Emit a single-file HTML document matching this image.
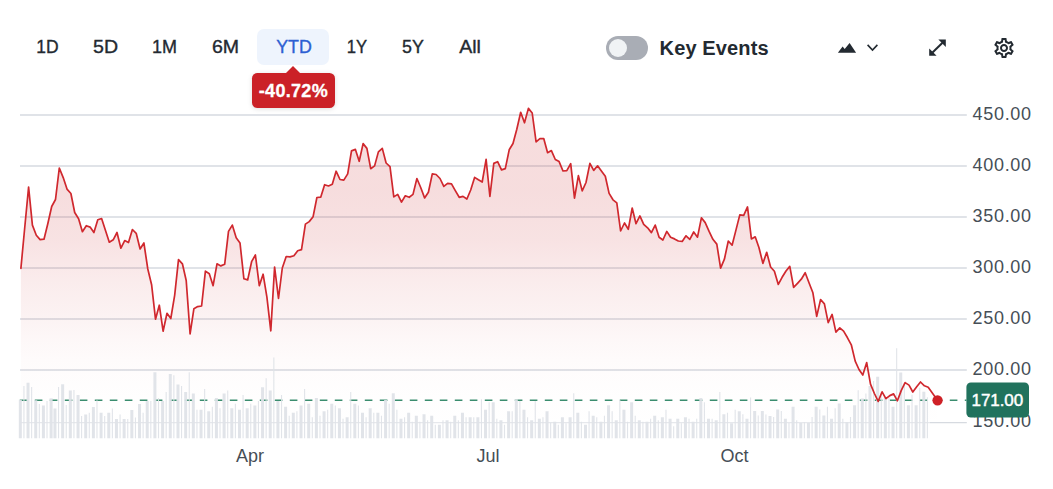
<!DOCTYPE html>
<html lang="en">
<head>
<meta charset="utf-8">
<title>Chart</title>
<style>
html,body{margin:0;padding:0;background:#fff;}
body{width:1053px;height:489px;position:relative;overflow:hidden;font-family:"Liberation Sans",Arial,sans-serif;color:#232a31;}
.rng{position:absolute;top:29px;height:36px;line-height:36px;font-size:18px;text-align:center;width:72px;margin-left:-36px;color:#232a31;-webkit-text-stroke:0.35px #232a31;white-space:nowrap;}
.rng span{display:inline-block;}
.sel{position:absolute;left:257px;top:29px;width:72px;height:36px;background:#eef4fd;border-radius:7px;}
.rng.blue{color:#2d5fd3;-webkit-text-stroke:0.35px #2d5fd3;}
.tip{position:absolute;left:252px;top:72.7px;width:83.2px;height:35.1px;background:#cb2127;border-radius:5.5px;color:#fff;font-weight:bold;font-size:18px;line-height:37.2px;text-align:center;letter-spacing:0.3px;text-indent:-0.4px;-webkit-text-stroke:0.3px #fff;box-shadow:0 1px 5px rgba(0,0,0,0.13);}
.tip:before{content:"";position:absolute;left:33.8px;top:-6.9px;border-left:7.1px solid transparent;border-right:7.1px solid transparent;border-bottom:7px solid #cb2127;}
.tog{position:absolute;left:606px;top:36px;width:42px;height:24px;border-radius:12px;background:#a9adb5;}
.tog i{position:absolute;left:2.6px;top:2.6px;width:18.8px;height:18.8px;border-radius:50%;background:#f0f3f5;}
.kev{position:absolute;left:659.6px;top:35.9px;height:24px;line-height:24px;font-size:20px;font-weight:bold;letter-spacing:0.13px;color:#232a31;white-space:nowrap;}
svg{position:absolute;left:0;top:0;}
svg text{font-family:"Liberation Sans",Arial,sans-serif;}
</style>
</head>
<body>
<svg width="1053" height="489" viewBox="0 0 1053 489">
<defs>
<linearGradient id="g" x1="0" y1="107" x2="0" y2="438" gradientUnits="userSpaceOnUse">
<stop offset="0.0000" stop-color="#c92a2e" stop-opacity="0.16"/>
<stop offset="0.2508" stop-color="#c92a2e" stop-opacity="0.16"/>
<stop offset="0.4018" stop-color="#c92a2e" stop-opacity="0.135"/>
<stop offset="0.5227" stop-color="#c92a2e" stop-opacity="0.091"/>
<stop offset="0.6133" stop-color="#c92a2e" stop-opacity="0.065"/>
<stop offset="0.7039" stop-color="#c92a2e" stop-opacity="0.034"/>
<stop offset="0.7674" stop-color="#c92a2e" stop-opacity="0.018"/>
<stop offset="0.8852" stop-color="#c92a2e" stop-opacity="0.004"/>
<stop offset="1.0000" stop-color="#c92a2e" stop-opacity="0"/>
</linearGradient>
</defs>
<g stroke="#d6dae0" stroke-width="1.3" fill="none"><line x1="20" x2="966.8" y1="115.0" y2="115.0"/><line x1="20" x2="966.8" y1="166.0" y2="166.0"/><line x1="20" x2="966.8" y1="217.0" y2="217.0"/><line x1="20" x2="966.8" y1="268.0" y2="268.0"/><line x1="20" x2="966.8" y1="319.0" y2="319.0"/><line x1="20" x2="966.8" y1="370.0" y2="370.0"/><line x1="20" x2="930" y1="422.6" y2="422.6" stroke="#e6e8ec"/><line x1="930" x2="966.8" y1="422.6" y2="422.6"/></g>
<path d="M20.9,268.3 L24.7,228.0 L28.6,187.1 L32.4,225.1 L36.3,235.2 L40.1,239.6 L44.0,239.2 L47.8,223.7 L51.7,206.5 L55.5,199.5 L59.3,168.0 L63.2,177.6 L67.0,189.1 L70.9,193.5 L74.7,212.5 L78.6,218.7 L82.4,231.7 L86.3,225.7 L90.1,227.1 L93.9,232.5 L97.8,219.7 L101.6,218.5 L105.5,230.5 L109.3,242.2 L113.2,239.8 L117.0,232.5 L120.9,248.2 L124.7,240.6 L128.5,242.6 L132.4,229.5 L136.2,233.3 L140.1,249.0 L143.9,243.0 L147.8,269.0 L151.6,284.7 L155.5,319.2 L159.3,305.2 L163.1,331.2 L167.0,313.3 L170.8,318.5 L174.7,295.1 L178.5,259.6 L182.4,263.8 L186.2,280.5 L190.1,333.9 L193.9,308.7 L197.7,306.6 L201.6,306.0 L205.4,271.1 L209.3,273.8 L213.1,285.7 L217.0,263.8 L220.8,265.9 L224.7,264.2 L228.5,231.4 L232.3,225.1 L236.2,237.7 L240.0,242.9 L243.9,278.8 L247.7,279.9 L251.6,261.7 L255.4,255.0 L259.3,285.7 L263.1,274.2 L266.9,297.2 L270.8,330.8 L274.6,267.0 L278.5,298.5 L282.3,268.0 L286.2,256.5 L290.0,256.9 L293.9,255.8 L297.7,250.8 L301.5,249.6 L305.4,224.1 L309.2,221.6 L313.1,216.7 L316.9,197.5 L320.8,197.1 L324.6,184.7 L328.5,186.0 L332.3,184.3 L336.1,171.2 L340.0,179.5 L343.8,180.1 L347.7,173.9 L351.5,150.9 L355.4,149.4 L359.2,161.3 L363.1,143.6 L366.9,148.4 L370.7,168.7 L374.6,165.9 L378.4,151.9 L382.3,148.4 L386.1,163.0 L390.0,166.6 L393.8,196.9 L397.7,194.4 L401.5,202.1 L405.3,195.8 L409.2,197.3 L413.0,194.4 L416.9,178.5 L420.7,187.5 L424.6,197.9 L428.4,192.3 L432.3,173.9 L436.1,174.5 L440.0,178.5 L443.8,186.4 L447.6,183.3 L451.5,183.9 L455.3,190.6 L459.2,197.3 L463.0,196.4 L466.9,199.0 L470.7,190.0 L474.6,177.4 L478.4,179.8 L482.2,182.0 L486.1,159.4 L489.9,196.5 L493.8,163.4 L497.6,161.7 L501.5,169.9 L505.3,168.6 L509.2,149.8 L513.0,143.5 L516.8,129.3 L520.7,112.3 L524.5,122.8 L528.4,108.4 L532.2,113.0 L536.1,141.8 L539.9,138.7 L543.8,138.7 L547.6,152.7 L551.4,150.6 L555.3,159.5 L559.1,161.6 L563.0,171.0 L566.8,170.6 L570.7,163.7 L574.5,198.2 L578.4,175.6 L582.2,190.9 L586.0,182.5 L589.9,163.3 L593.7,170.4 L597.6,165.8 L601.4,171.0 L605.3,176.3 L609.1,193.4 L613.0,199.8 L616.8,202.8 L620.6,231.0 L624.5,223.0 L628.3,229.3 L632.2,208.0 L636.0,223.7 L639.9,215.9 L643.7,224.3 L647.6,227.8 L651.4,232.6 L655.2,225.1 L659.1,237.2 L662.9,240.0 L666.8,231.4 L670.6,237.2 L674.5,238.9 L678.3,241.0 L682.2,241.4 L686.0,235.8 L689.8,239.3 L693.7,232.0 L697.5,237.2 L701.4,217.8 L705.2,222.6 L709.1,231.4 L712.9,239.3 L716.8,244.1 L720.6,268.2 L724.4,259.2 L728.3,241.0 L732.1,245.2 L736.0,229.9 L739.8,214.9 L743.7,215.3 L747.5,206.9 L751.4,238.9 L755.2,236.8 L759.0,247.7 L762.9,263.4 L766.7,252.3 L770.6,267.0 L774.4,271.3 L778.3,284.4 L782.1,277.3 L786.0,271.0 L789.8,266.4 L793.6,287.4 L797.5,283.3 L801.3,279.2 L805.2,272.7 L809.0,282.8 L812.9,292.8 L816.7,316.4 L820.6,299.5 L824.4,303.9 L828.2,322.7 L832.1,314.4 L835.9,332.1 L839.8,327.9 L843.6,331.1 L847.5,337.8 L851.3,344.8 L855.2,361.1 L859.0,369.5 L862.8,375.1 L866.7,362.6 L870.5,384.1 L874.4,393.5 L878.2,401.4 L882.1,391.8 L885.9,398.7 L889.8,395.6 L893.6,393.9 L897.4,400.8 L901.3,390.4 L905.1,382.6 L909.0,385.1 L912.8,392.0 L916.7,386.8 L920.5,382.0 L924.4,385.8 L928.2,387.2 L937.5,400.3 L937.5,438.2 L20.9,438.2 Z" fill="url(#g)"/>
<line x1="19.8" x2="966.4" y1="400.15" y2="400.15" stroke="#3b8d6f" stroke-width="1.5" stroke-dasharray="7.6 7.4"/>
<path d="M18.85,438.2V399.7h3V438.2zM23.39,438.2V386.0h1.1V438.2zM26.54,438.2V382.7h3V438.2zM31.08,438.2V387.1h1.1V438.2zM34.23,438.2V400.2h3V438.2zM38.77,438.2V404.0h1.1V438.2zM41.92,438.2V405.4h3V438.2zM46.46,438.2V401.0h1.1V438.2zM49.61,438.2V398.2h3V438.2zM53.45,438.2V408.4h3V438.2zM57.99,438.2V387.1h1.1V438.2zM61.14,438.2V384.3h3V438.2zM65.68,438.2V405.1h1.1V438.2zM68.83,438.2V390.4h3V438.2zM73.37,438.2V390.0h1.1V438.2zM76.52,438.2V395.0h3V438.2zM81.06,438.2V416.1h1.1V438.2zM84.21,438.2V414.4h3V438.2zM88.75,438.2V412.8h1.1V438.2zM91.90,438.2V407.1h3V438.2zM96.44,438.2V400.2h1.1V438.2zM99.58,438.2V412.8h3V438.2zM104.13,438.2V416.1h1.1V438.2zM107.27,438.2V412.8h3V438.2zM111.82,438.2V408.4h1.1V438.2zM114.96,438.2V419.0h3V438.2zM119.51,438.2V414.4h1.1V438.2zM122.65,438.2V419.0h3V438.2zM127.20,438.2V419.0h1.1V438.2zM130.34,438.2V410.0h3V438.2zM134.89,438.2V417.4h1.1V438.2zM138.03,438.2V404.0h3V438.2zM142.57,438.2V412.8h1.1V438.2zM145.72,438.2V400.9h3V438.2zM150.26,438.2V400.9h1.1V438.2zM153.41,438.2V372.3h3V438.2zM157.95,438.2V397.9h1.1V438.2zM161.10,438.2V400.9h3V438.2zM165.64,438.2V391.9h1.1V438.2zM168.79,438.2V373.9h3V438.2zM173.33,438.2V375.3h1.1V438.2zM176.47,438.2V384.5h3V438.2zM181.02,438.2V385.9h1.1V438.2zM184.16,438.2V391.9h3V438.2zM188.71,438.2V372.3h1.1V438.2zM191.85,438.2V393.5h3V438.2zM196.40,438.2V409.8h1.1V438.2zM199.54,438.2V409.8h3V438.2zM204.09,438.2V388.9h1.1V438.2zM207.23,438.2V411.2h3V438.2zM211.78,438.2V406.8h1.1V438.2zM214.92,438.2V397.9h3V438.2zM219.46,438.2V408.2h1.1V438.2zM222.61,438.2V393.5h3V438.2zM227.15,438.2V390.5h1.1V438.2zM230.30,438.2V408.2h3V438.2zM234.84,438.2V403.8h1.1V438.2zM237.99,438.2V409.8h3V438.2zM242.53,438.2V394.9h1.1V438.2zM245.68,438.2V408.2h3V438.2zM250.22,438.2V403.8h1.1V438.2zM253.36,438.2V405.4h3V438.2zM257.91,438.2V400.9h1.1V438.2zM261.05,438.2V387.3h3V438.2zM265.60,438.2V378.3h1.1V438.2zM268.74,438.2V390.5h3V438.2zM273.29,438.2V357.4h1.1V438.2zM276.43,438.2V400.9h3V438.2zM280.98,438.2V394.9h1.1V438.2zM284.12,438.2V406.8h3V438.2zM288.66,438.2V415.8h1.1V438.2zM291.81,438.2V412.8h3V438.2zM296.35,438.2V411.2h1.1V438.2zM299.50,438.2V405.4h3V438.2zM304.04,438.2V388.9h1.1V438.2zM307.19,438.2V403.8h3V438.2zM311.73,438.2V417.2h1.1V438.2zM314.88,438.2V397.9h3V438.2zM319.42,438.2V415.8h1.1V438.2zM322.57,438.2V411.2h3V438.2zM327.11,438.2V409.8h1.1V438.2zM330.25,438.2V403.8h3V438.2zM334.80,438.2V405.4h1.1V438.2zM337.94,438.2V408.2h3V438.2zM342.49,438.2V418.8h1.1V438.2zM345.63,438.2V417.2h3V438.2zM350.18,438.2V391.9h1.1V438.2zM353.32,438.2V403.8h3V438.2zM357.87,438.2V405.4h1.1V438.2zM361.01,438.2V412.8h3V438.2zM365.55,438.2V417.2h1.1V438.2zM368.70,438.2V408.2h3V438.2zM373.24,438.2V412.8h1.1V438.2zM376.39,438.2V412.8h3V438.2zM380.93,438.2V415.8h1.1V438.2zM384.08,438.2V399.9h3V438.2zM388.62,438.2V403.8h1.1V438.2zM391.77,438.2V393.3h3V438.2zM396.31,438.2V409.8h1.1V438.2zM399.46,438.2V418.8h3V438.2zM404.00,438.2V417.2h1.1V438.2zM407.14,438.2V412.8h3V438.2zM411.69,438.2V421.8h1.1V438.2zM414.83,438.2V415.8h3V438.2zM419.38,438.2V421.8h1.1V438.2zM422.52,438.2V414.2h3V438.2zM427.07,438.2V420.2h1.1V438.2zM430.21,438.2V415.8h3V438.2zM434.76,438.2V424.8h1.1V438.2zM437.90,438.2V424.8h3V438.2zM442.44,438.2V420.2h1.1V438.2zM445.59,438.2V420.2h3V438.2zM450.13,438.2V421.8h1.1V438.2zM453.28,438.2V415.8h3V438.2zM457.82,438.2V420.2h1.1V438.2zM460.97,438.2V412.8h3V438.2zM465.51,438.2V417.2h1.1V438.2zM468.66,438.2V417.2h3V438.2zM473.20,438.2V417.2h1.1V438.2zM476.35,438.2V417.2h3V438.2zM480.89,438.2V399.3h1.1V438.2zM484.03,438.2V409.8h3V438.2zM488.58,438.2V402.3h1.1V438.2zM491.72,438.2V402.3h3V438.2zM496.27,438.2V418.8h1.1V438.2zM499.41,438.2V420.2h3V438.2zM503.96,438.2V424.8h1.1V438.2zM507.10,438.2V411.2h3V438.2zM511.65,438.2V411.2h1.1V438.2zM514.79,438.2V399.3h3V438.2zM519.34,438.2V400.9h1.1V438.2zM522.48,438.2V409.8h3V438.2zM527.02,438.2V417.2h1.1V438.2zM530.17,438.2V420.2h3V438.2zM534.71,438.2V400.9h1.1V438.2zM537.86,438.2V418.8h3V438.2zM542.40,438.2V417.2h1.1V438.2zM545.55,438.2V411.2h3V438.2zM550.09,438.2V422.8h1.1V438.2zM553.24,438.2V421.8h3V438.2zM557.78,438.2V424.8h1.1V438.2zM560.92,438.2V417.2h3V438.2zM565.47,438.2V423.2h1.1V438.2zM568.61,438.2V417.2h3V438.2zM573.16,438.2V393.3h1.1V438.2zM576.30,438.2V412.8h3V438.2zM580.85,438.2V421.8h1.1V438.2zM583.99,438.2V424.8h3V438.2zM588.54,438.2V411.2h1.1V438.2zM591.68,438.2V415.8h3V438.2zM596.22,438.2V417.2h1.1V438.2zM599.37,438.2V421.8h3V438.2zM603.91,438.2V415.8h1.1V438.2zM607.06,438.2V405.2h3V438.2zM611.60,438.2V411.2h1.1V438.2zM614.75,438.2V420.2h3V438.2zM619.29,438.2V399.9h1.1V438.2zM622.44,438.2V409.8h3V438.2zM626.98,438.2V421.8h1.1V438.2zM630.13,438.2V402.3h3V438.2zM634.67,438.2V415.8h1.1V438.2zM637.81,438.2V420.2h3V438.2zM642.36,438.2V421.8h1.1V438.2zM645.50,438.2V421.8h3V438.2zM650.05,438.2V418.8h1.1V438.2zM653.19,438.2V415.8h3V438.2zM657.74,438.2V420.2h1.1V438.2zM660.88,438.2V417.2h3V438.2zM665.43,438.2V409.8h1.1V438.2zM668.57,438.2V418.8h3V438.2zM673.12,438.2V426.2h1.1V438.2zM676.26,438.2V418.8h3V438.2zM680.80,438.2V423.2h1.1V438.2zM683.95,438.2V417.2h3V438.2zM688.49,438.2V418.8h1.1V438.2zM691.64,438.2V421.8h3V438.2zM696.18,438.2V418.8h1.1V438.2zM699.33,438.2V397.9h3V438.2zM703.87,438.2V402.3h1.1V438.2zM707.02,438.2V418.8h3V438.2zM711.56,438.2V418.8h1.1V438.2zM714.70,438.2V420.2h3V438.2zM719.25,438.2V391.9h1.1V438.2zM722.39,438.2V414.2h3V438.2zM726.94,438.2V412.8h1.1V438.2zM730.08,438.2V423.2h3V438.2zM734.63,438.2V409.8h1.1V438.2zM737.77,438.2V411.2h3V438.2zM742.32,438.2V414.2h1.1V438.2zM745.46,438.2V418.8h3V438.2zM750.00,438.2V397.6h1.1V438.2zM753.15,438.2V411.1h3V438.2zM757.69,438.2V415.6h1.1V438.2zM760.84,438.2V411.1h3V438.2zM765.38,438.2V414.4h1.1V438.2zM768.53,438.2V415.9h3V438.2zM773.07,438.2V417.0h1.1V438.2zM776.22,438.2V409.6h3V438.2zM780.76,438.2V411.1h1.1V438.2zM783.91,438.2V418.8h3V438.2zM788.45,438.2V423.1h1.1V438.2zM791.59,438.2V406.7h3V438.2zM796.14,438.2V420.3h1.1V438.2zM799.28,438.2V423.1h3V438.2zM803.83,438.2V422.0h1.1V438.2zM806.97,438.2V423.1h3V438.2zM811.52,438.2V417.0h1.1V438.2zM814.66,438.2V406.7h3V438.2zM819.21,438.2V409.6h1.1V438.2zM822.35,438.2V415.5h3V438.2zM826.89,438.2V406.7h1.1V438.2zM830.04,438.2V418.8h3V438.2zM834.58,438.2V408.3h1.1V438.2zM837.73,438.2V403.4h3V438.2zM842.27,438.2V418.8h1.1V438.2zM845.42,438.2V422.0h3V438.2zM849.96,438.2V417.0h1.1V438.2zM853.11,438.2V405.2h3V438.2zM857.65,438.2V390.3h1.1V438.2zM860.80,438.2V398.6h3V438.2zM865.34,438.2V393.6h1.1V438.2zM868.48,438.2V385.9h3V438.2zM873.03,438.2V380.9h1.1V438.2zM876.17,438.2V376.8h3V438.2zM880.72,438.2V392.5h1.1V438.2zM883.86,438.2V397.3h3V438.2zM888.41,438.2V397.3h1.1V438.2zM891.55,438.2V406.7h3V438.2zM896.10,438.2V348.3h1.1V438.2zM899.24,438.2V372.4h3V438.2zM903.78,438.2V382.7h1.1V438.2zM906.93,438.2V405.2h3V438.2zM911.47,438.2V394.7h1.1V438.2zM914.62,438.2V405.2h3V438.2zM919.16,438.2V387.7h1.1V438.2zM922.31,438.2V391.8h3V438.2zM926.85,438.2V397.3h1.1V438.2z" fill="#dfe2e7" fill-opacity="0.93"/>
<path d="M20.9,268.3 L24.7,228.0 L28.6,187.1 L32.4,225.1 L36.3,235.2 L40.1,239.6 L44.0,239.2 L47.8,223.7 L51.7,206.5 L55.5,199.5 L59.3,168.0 L63.2,177.6 L67.0,189.1 L70.9,193.5 L74.7,212.5 L78.6,218.7 L82.4,231.7 L86.3,225.7 L90.1,227.1 L93.9,232.5 L97.8,219.7 L101.6,218.5 L105.5,230.5 L109.3,242.2 L113.2,239.8 L117.0,232.5 L120.9,248.2 L124.7,240.6 L128.5,242.6 L132.4,229.5 L136.2,233.3 L140.1,249.0 L143.9,243.0 L147.8,269.0 L151.6,284.7 L155.5,319.2 L159.3,305.2 L163.1,331.2 L167.0,313.3 L170.8,318.5 L174.7,295.1 L178.5,259.6 L182.4,263.8 L186.2,280.5 L190.1,333.9 L193.9,308.7 L197.7,306.6 L201.6,306.0 L205.4,271.1 L209.3,273.8 L213.1,285.7 L217.0,263.8 L220.8,265.9 L224.7,264.2 L228.5,231.4 L232.3,225.1 L236.2,237.7 L240.0,242.9 L243.9,278.8 L247.7,279.9 L251.6,261.7 L255.4,255.0 L259.3,285.7 L263.1,274.2 L266.9,297.2 L270.8,330.8 L274.6,267.0 L278.5,298.5 L282.3,268.0 L286.2,256.5 L290.0,256.9 L293.9,255.8 L297.7,250.8 L301.5,249.6 L305.4,224.1 L309.2,221.6 L313.1,216.7 L316.9,197.5 L320.8,197.1 L324.6,184.7 L328.5,186.0 L332.3,184.3 L336.1,171.2 L340.0,179.5 L343.8,180.1 L347.7,173.9 L351.5,150.9 L355.4,149.4 L359.2,161.3 L363.1,143.6 L366.9,148.4 L370.7,168.7 L374.6,165.9 L378.4,151.9 L382.3,148.4 L386.1,163.0 L390.0,166.6 L393.8,196.9 L397.7,194.4 L401.5,202.1 L405.3,195.8 L409.2,197.3 L413.0,194.4 L416.9,178.5 L420.7,187.5 L424.6,197.9 L428.4,192.3 L432.3,173.9 L436.1,174.5 L440.0,178.5 L443.8,186.4 L447.6,183.3 L451.5,183.9 L455.3,190.6 L459.2,197.3 L463.0,196.4 L466.9,199.0 L470.7,190.0 L474.6,177.4 L478.4,179.8 L482.2,182.0 L486.1,159.4 L489.9,196.5 L493.8,163.4 L497.6,161.7 L501.5,169.9 L505.3,168.6 L509.2,149.8 L513.0,143.5 L516.8,129.3 L520.7,112.3 L524.5,122.8 L528.4,108.4 L532.2,113.0 L536.1,141.8 L539.9,138.7 L543.8,138.7 L547.6,152.7 L551.4,150.6 L555.3,159.5 L559.1,161.6 L563.0,171.0 L566.8,170.6 L570.7,163.7 L574.5,198.2 L578.4,175.6 L582.2,190.9 L586.0,182.5 L589.9,163.3 L593.7,170.4 L597.6,165.8 L601.4,171.0 L605.3,176.3 L609.1,193.4 L613.0,199.8 L616.8,202.8 L620.6,231.0 L624.5,223.0 L628.3,229.3 L632.2,208.0 L636.0,223.7 L639.9,215.9 L643.7,224.3 L647.6,227.8 L651.4,232.6 L655.2,225.1 L659.1,237.2 L662.9,240.0 L666.8,231.4 L670.6,237.2 L674.5,238.9 L678.3,241.0 L682.2,241.4 L686.0,235.8 L689.8,239.3 L693.7,232.0 L697.5,237.2 L701.4,217.8 L705.2,222.6 L709.1,231.4 L712.9,239.3 L716.8,244.1 L720.6,268.2 L724.4,259.2 L728.3,241.0 L732.1,245.2 L736.0,229.9 L739.8,214.9 L743.7,215.3 L747.5,206.9 L751.4,238.9 L755.2,236.8 L759.0,247.7 L762.9,263.4 L766.7,252.3 L770.6,267.0 L774.4,271.3 L778.3,284.4 L782.1,277.3 L786.0,271.0 L789.8,266.4 L793.6,287.4 L797.5,283.3 L801.3,279.2 L805.2,272.7 L809.0,282.8 L812.9,292.8 L816.7,316.4 L820.6,299.5 L824.4,303.9 L828.2,322.7 L832.1,314.4 L835.9,332.1 L839.8,327.9 L843.6,331.1 L847.5,337.8 L851.3,344.8 L855.2,361.1 L859.0,369.5 L862.8,375.1 L866.7,362.6 L870.5,384.1 L874.4,393.5 L878.2,401.4 L882.1,391.8 L885.9,398.7 L889.8,395.6 L893.6,393.9 L897.4,400.8 L901.3,390.4 L905.1,382.6 L909.0,385.1 L912.8,392.0 L916.7,386.8 L920.5,382.0 L924.4,385.8 L928.2,387.2 L937.5,400.3" fill="none" stroke="#d0282e" stroke-width="1.7" stroke-linejoin="round" stroke-linecap="round"/>
<circle cx="937.55" cy="400.3" r="5.15" fill="#cf2026"/>
<g font-size="18" fill="#464e56"><text x="972.6" y="120.2" textLength="58.4" lengthAdjust="spacing">450.00</text><text x="972.6" y="171.2" textLength="58.4" lengthAdjust="spacing">400.00</text><text x="972.6" y="222.2" textLength="58.4" lengthAdjust="spacing">350.00</text><text x="972.6" y="273.2" textLength="58.4" lengthAdjust="spacing">300.00</text><text x="972.6" y="324.2" textLength="58.4" lengthAdjust="spacing">250.00</text><text x="972.6" y="375.2" textLength="58.4" lengthAdjust="spacing">200.00</text><text x="972.6" y="427.4" textLength="58.4" lengthAdjust="spacing">150.00</text></g>
<rect x="966.4" y="382.4" width="62.6" height="35.2" rx="4.5" fill="#21725d"/>
<text x="971.6" y="405.9" font-size="17" fill="#fff" stroke="#fff" stroke-width="0.45" textLength="51.6" lengthAdjust="spacing">171.00</text>
<g font-size="18" fill="#464e56" text-anchor="middle">
<text x="250" y="462">Apr</text>
<text x="488" y="462">Jul</text>
<text x="734.6" y="462">Oct</text>
</g>
<!-- chart type icon -->
<path d="M837.9,52.7 L842.6,46.5 L844.7,49.0 L849.6,43.1 L856.1,52.7 Z" fill="#232a31"/>
<path d="M867.6,44.9 L872.5,50.1 L877.4,44.9" fill="none" stroke="#232a31" stroke-width="1.6"/>
<!-- expand icon -->
<g fill="#232a31" stroke="none">
<path d="M938.4,39.5 H945.8 V46.9 Z"/>
<path d="M929.2,48.5 V55.8 H936.6 Z"/>
</g>
<path d="M932.5,52.5 L942.5,42.8" stroke="#232a31" stroke-width="2" fill="none"/>
<!-- gear -->
<g transform="translate(992,36)" fill="#232a31">
<path d="M19.43 12.98c.04-.32.07-.64.07-.98 0-.34-.03-.66-.07-.98l2.11-1.65c.19-.15.24-.42.12-.64l-2-3.46c-.09-.16-.26-.25-.44-.25-.06 0-.12.01-.17.03l-2.49 1c-.52-.4-1.08-.73-1.69-.98l-.38-2.65C14.46 2.18 14.25 2 14 2h-4c-.25 0-.46.18-.49.42l-.38 2.65c-.61.25-1.17.59-1.69.98l-2.49-1c-.06-.02-.12-.03-.18-.03-.17 0-.34.09-.43.25l-2 3.46c-.13.22-.07.49.12.64l2.11 1.65c-.04.32-.07.65-.07.98 0 .33.03.66.07.98l-2.11 1.65c-.19.15-.24.42-.12.64l2 3.46c.09.16.26.25.44.25.06 0 .12-.01.17-.03l2.49-1c.52.4 1.08.73 1.69.98l.38 2.65c.03.24.24.42.49.42h4c.25 0 .46-.18.49-.42l.38-2.65c.61-.25 1.17-.59 1.69-.98l2.49 1c.06.02.12.03.18.03.17 0 .34-.09.43-.25l2-3.46c.12-.22.07-.49-.12-.64l-2.11-1.65zm-1.98-1.71c.04.31.05.52.05.73 0 .21-.02.43-.05.73l-.14 1.13.89.7 1.08.84-.7 1.21-1.27-.51-1.04-.42-.9.68c-.43.32-.84.56-1.25.73l-1.06.43-.16 1.13-.2 1.35h-1.4l-.19-1.35-.16-1.13-1.06-.43c-.43-.18-.83-.41-1.23-.71l-.91-.7-1.06.43-1.27.51-.7-1.21 1.08-.84.89-.7-.14-1.13c-.03-.31-.05-.54-.05-.74s.02-.43.05-.73l.14-1.13-.89-.7-1.08-.84.7-1.21 1.27.51 1.04.42.9-.68c.43-.32.84-.56 1.25-.73l1.06-.43.16-1.13.2-1.35h1.39l.19 1.35.16 1.13 1.06.43c.43.18.83.41 1.23.71l.91.7 1.06-.43 1.27-.51.7 1.21-1.07.85-.89.7.14 1.13zM12 8c-2.21 0-4 1.79-4 4s1.79 4 4 4 4-1.79 4-4-1.79-4-4-4zm0 6c-1.1 0-2-.9-2-2s.9-2 2-2 2 .9 2 2-.9 2-2 2z"/>
</g>
</svg>
<div class="sel"></div>
<div class="rng" style="left:47.3px"><span style="transform:scaleX(0.97)">1D</span></div>
<div class="rng" style="left:105.35px"><span style="transform:scaleX(1.086)">5D</span></div>
<div class="rng" style="left:164.55px"><span style="transform:scaleX(1.0)">1M</span></div>
<div class="rng" style="left:225.55px"><span style="transform:scaleX(1.086)">6M</span></div>
<div class="rng blue" style="left:293.7px"><span style="transform:scaleX(0.99)">YTD</span></div>
<div class="rng" style="left:356.65px"><span style="transform:scaleX(0.925)">1Y</span></div>
<div class="rng" style="left:412.7px"><span style="transform:scaleX(0.99)">5Y</span></div>
<div class="rng" style="left:470.25px"><span style="transform:scaleX(1.086)">All</span></div>
<div class="tip">-40.72%</div>
<div class="tog"><i></i></div>
<div class="kev">Key Events</div>
</body>
</html>
